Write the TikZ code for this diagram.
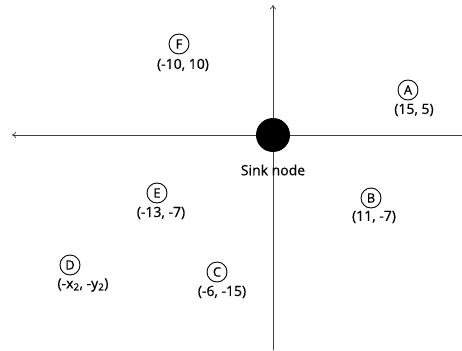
\documentclass[tikz,border=0pt]{standalone}
\usepackage{fontspec}
\setmainfont{Open Sans}
\newfontfamily\heavyfont{Open Sans}[FakeBold=0.6]
\usetikzlibrary{arrows.meta}
\begin{document}
\begin{tikzpicture}[x=1pt,y=-1pt,
  axis/.style={draw=black!75, line width=0.7pt, -{To[length=4pt,width=6pt]}},
  letter/.style={circle, draw, line width=0.9pt, minimum size=20pt, inner sep=0pt, font=\heavyfont\fontsize{13}{14}\selectfont},
  coordlabel/.style={font=\heavyfont\fontsize{14}{15}\selectfont, inner sep=0pt},
  sink/.style={circle, fill=black, minimum size=34pt, inner sep=0pt}]
\useasboundingbox (0,0) rectangle (462,350);
\coordinate (xr) at (462,135);
\coordinate (xl) at (12,135);
\coordinate (yb) at (273,350);
\coordinate (yt) at (273,5);
\draw[axis] (xr) -- (xl);
\draw[axis] (yb) -- (yt);
\node[sink] (S) at (273,135) {};
\node[coordlabel] (Sl) at (273,170) {Sink node};
\node[letter] (A) at (408,90) {A};
\node[coordlabel] (Al) at (414,110) {(15, 5)};
\node[letter] (F) at (179,44) {F};
\node[coordlabel] (Fl) at (183,65) {(-10, 10)};
\node[letter] (E) at (157,193) {E};
\node[coordlabel] (El) at (161,213) {(-13, -7)};
\node[letter] (B) at (371,198) {B};
\node[coordlabel] (Bl) at (374,217) {(11, -7)};
\node[letter] (D) at (70,265) {D};
\node[coordlabel] (Dl) at (83,285) {(-x\textsubscript{2}, -y\textsubscript{2})};
\node[letter] (C) at (217,272) {C};
\node[coordlabel] (Cl) at (222,292) {(-6, -15)};
\end{tikzpicture}
\end{document}
